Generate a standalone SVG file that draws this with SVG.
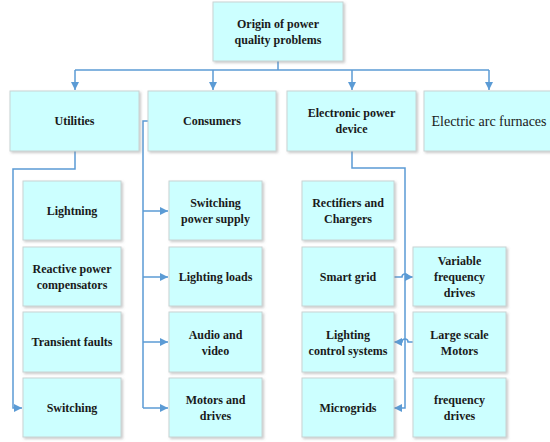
<svg xmlns="http://www.w3.org/2000/svg" width="550" height="442" viewBox="0 0 550 442">
<style>
.box{fill:#CCFFFF;stroke:#C9D3D3;stroke-width:1;filter:url(#sh)}
.t{font-family:"Liberation Serif","Times New Roman",serif;font-weight:bold;font-size:12px;fill:#1a1a1a;text-anchor:middle}
.tr{font-family:"Liberation Serif","Times New Roman",serif;font-size:14px;fill:#1a1a1a;text-anchor:middle}
.c{fill:none;stroke:#5B9BD5;stroke-width:1.5}
</style>
<defs>
<filter id="sh" x="-10%" y="-10%" width="130%" height="130%">
<feDropShadow dx="1.5" dy="1.5" stdDeviation="1" flood-color="#888" flood-opacity="0.45"/>
</filter>
<marker id="ar" viewBox="0 0 8 8" refX="8" refY="4" markerWidth="8" markerHeight="8" markerUnits="userSpaceOnUse" orient="auto">
<path d="M0,0 L8,4 L0,8 Z" fill="#5B9BD5"/>
</marker>
</defs>
<rect width="550" height="442" fill="#fff"/>

<g id="connectors">
<path class="c" d="M278,61 V70"/>
<path class="c" d="M75,70 H489"/>
<path class="c" d="M75,70 V90" marker-end="url(#ar)"/>
<path class="c" d="M213,70 V90" marker-end="url(#ar)"/>
<path class="c" d="M352,70 V90" marker-end="url(#ar)"/>
<path class="c" d="M489,70 V90" marker-end="url(#ar)"/>
<path class="c" d="M75,151 V169 H13 V408 H22" marker-end="url(#ar)"/>
<path class="c" d="M148,121 H143 V408"/>
<path class="c" d="M143,211 H168" marker-end="url(#ar)"/>
<path class="c" d="M143,277 H168" marker-end="url(#ar)"/>
<path class="c" d="M143,342 H168" marker-end="url(#ar)"/>
<path class="c" d="M143,408 H168" marker-end="url(#ar)"/>
<path class="c" d="M352,151 V168 H405 V408 H394" marker-end="url(#ar)"/>
<path class="c" d="M394,277 H402 A3,3 0 0 1 408,277 H413" marker-end="url(#ar)"/>
<path class="c" d="M413,342 H408 A3,3 0 0 0 402,342 H394" marker-end="url(#ar)"/>
</g>

<g id="origin"><rect class="box" x="213" y="2" width="130" height="59"/>
<text class="t" x="278" y="28">Origin of power</text><text class="t" x="278" y="44">quality problems</text></g>

<g id="utilities"><rect class="box" x="10" y="91" width="129" height="60"/>
<text class="t" x="74.5" y="125">Utilities</text></g>
<g id="consumers"><rect class="box" x="148" y="91" width="128" height="60"/>
<text class="t" x="212" y="125">Consumers</text></g>
<g id="electronic"><rect class="box" x="287" y="91" width="129" height="60"/>
<text class="t" x="351.5" y="117">Electronic power</text><text class="t" x="351.5" y="133">device</text></g>
<g id="arc"><rect class="box" x="424" y="91" width="130" height="60"/>
<text class="tr" x="489" y="126">Electric arc furnaces</text></g>

<g id="lightning"><rect class="box" x="23" y="181" width="98" height="59"/>
<text class="t" x="72" y="215">Lightning</text></g>
<g id="reactive"><rect class="box" x="23" y="247" width="98" height="59"/>
<text class="t" x="72" y="273">Reactive power</text><text class="t" x="72" y="289">compensators</text></g>
<g id="transient"><rect class="box" x="23" y="312" width="98" height="60"/>
<text class="t" x="72" y="346">Transient faults</text></g>
<g id="switching"><rect class="box" x="23" y="378" width="98" height="59"/>
<text class="t" x="72" y="412">Switching</text></g>

<g id="sps"><rect class="box" x="169" y="181" width="93" height="59"/>
<text class="t" x="215.5" y="207">Switching</text><text class="t" x="215.5" y="223">power supply</text></g>
<g id="lighting-loads"><rect class="box" x="169" y="247" width="93" height="59"/>
<text class="t" x="215.5" y="281">Lighting loads</text></g>
<g id="audio"><rect class="box" x="169" y="312" width="93" height="60"/>
<text class="t" x="215.5" y="339">Audio and</text><text class="t" x="215.5" y="355">video</text></g>
<g id="motors"><rect class="box" x="169" y="378" width="93" height="59"/>
<text class="t" x="215.5" y="404">Motors and</text><text class="t" x="215.5" y="420">drives</text></g>

<g id="rectifiers"><rect class="box" x="302" y="181" width="92" height="59"/>
<text class="t" x="348" y="207">Rectifiers and</text><text class="t" x="348" y="223">Chargers</text></g>
<g id="smart-grid"><rect class="box" x="302" y="247" width="92" height="59"/>
<text class="t" x="348" y="281">Smart grid</text></g>
<g id="lcs"><rect class="box" x="302" y="312" width="92" height="60"/>
<text class="t" x="348" y="339">Lighting</text><text class="t" x="348" y="355">control systems</text></g>
<g id="microgrids"><rect class="box" x="302" y="378" width="92" height="59"/>
<text class="t" x="348" y="412">Microgrids</text></g>

<g id="vfd"><rect class="box" x="413" y="247" width="93" height="59"/>
<text class="t" x="459.5" y="265">Variable</text><text class="t" x="459.5" y="281">frequency</text><text class="t" x="459.5" y="297">drives</text></g>
<g id="large-motors"><rect class="box" x="413" y="312" width="93" height="60"/>
<text class="t" x="459.5" y="339">Large scale</text><text class="t" x="459.5" y="355">Motors</text></g>
<g id="fd"><rect class="box" x="413" y="378" width="93" height="59"/>
<text class="t" x="459.5" y="404">frequency</text><text class="t" x="459.5" y="420">drives</text></g>
</svg>
